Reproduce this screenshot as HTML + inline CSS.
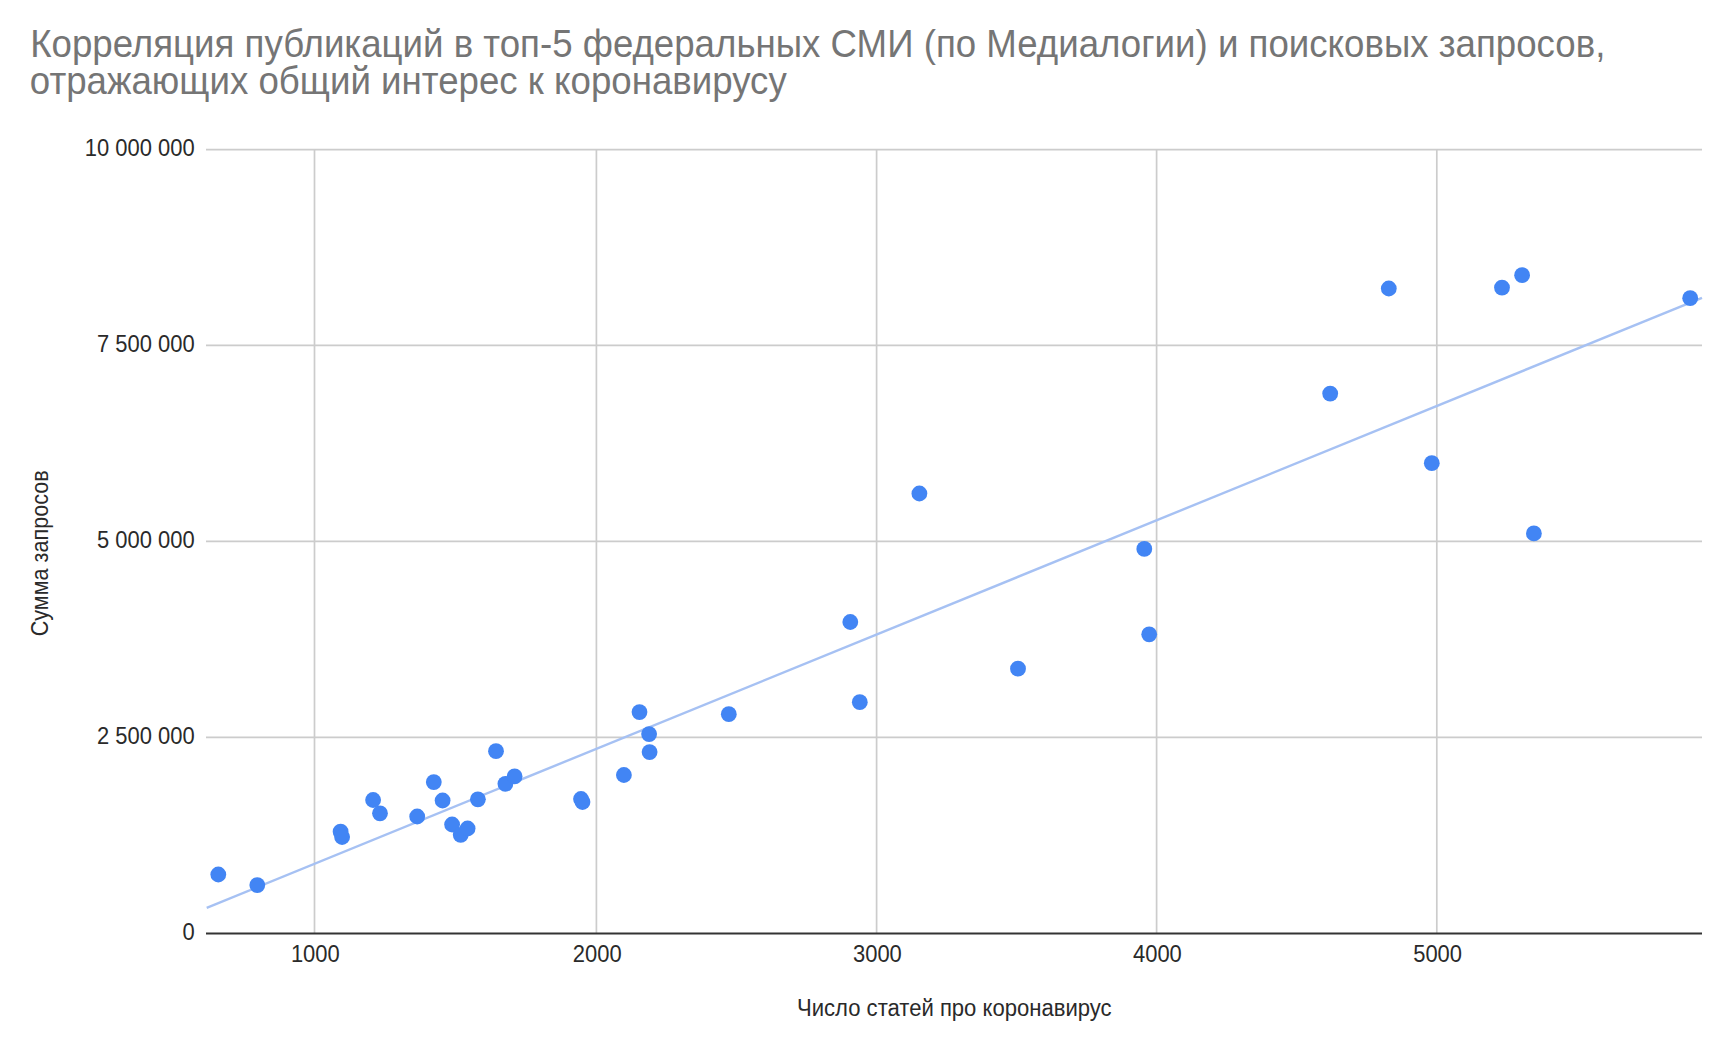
<!DOCTYPE html>
<html><head><meta charset="utf-8">
<style>
html,body{margin:0;padding:0;background:#fff;width:1732px;height:1047px;overflow:hidden}
svg{display:block;font-family:"Liberation Sans",sans-serif}
</style></head><body>
<svg width="1732" height="1047" viewBox="0 0 1732 1047">
<rect width="1732" height="1047" fill="#fff"/>
<g fill="#757575" font-size="38">
<text transform="translate(30.2,57) scale(0.9646,1)">Корреляция публикаций в топ-5 федеральных СМИ (по Медиалогии) и поисковых запросов,</text>
<text transform="translate(29.8,93.8) scale(0.9646,1)">отражающих общий интерес к коронавирусу</text>
</g>
<g stroke="#cccccc" stroke-width="1.7">
<line x1="206" y1="149.6" x2="1702" y2="149.6"/>
<line x1="206" y1="345.4" x2="1702" y2="345.4"/>
<line x1="206" y1="541.3" x2="1702" y2="541.3"/>
<line x1="206" y1="737.3" x2="1702" y2="737.3"/>
<line x1="314.5" y1="149.6" x2="314.5" y2="933"/>
<line x1="596.4" y1="149.6" x2="596.4" y2="933"/>
<line x1="876.6" y1="149.6" x2="876.6" y2="933"/>
<line x1="1156.6" y1="149.6" x2="1156.6" y2="933"/>
<line x1="1436.8" y1="149.6" x2="1436.8" y2="933"/>
</g>
<line x1="206" y1="933.4" x2="1702" y2="933.4" stroke="#333" stroke-width="2"/>
<g fill="#2a2a2a" font-size="23">
<text transform="translate(194.6,155.9) scale(0.955,1)" text-anchor="end">10 000 000</text>
<text transform="translate(194.6,351.7) scale(0.955,1)" text-anchor="end">7 500 000</text>
<text transform="translate(194.6,547.6) scale(0.955,1)" text-anchor="end">5 000 000</text>
<text transform="translate(194.6,743.6) scale(0.955,1)" text-anchor="end">2 500 000</text>
<text transform="translate(194.6,939.5) scale(0.955,1)" text-anchor="end">0</text>
<text transform="translate(315.3,961.5) scale(0.955,1)" text-anchor="middle">1000</text>
<text transform="translate(597.1999999999999,961.5) scale(0.955,1)" text-anchor="middle">2000</text>
<text transform="translate(877.4,961.5) scale(0.955,1)" text-anchor="middle">3000</text>
<text transform="translate(1157.3999999999999,961.5) scale(0.955,1)" text-anchor="middle">4000</text>
<text transform="translate(1437.6,961.5) scale(0.955,1)" text-anchor="middle">5000</text>
</g>
<g fill="#2a2a2a" font-size="23">
<text transform="translate(954.3,1016.3) scale(0.96,1)" text-anchor="middle">Число статей про коронавирус</text>
<text transform="translate(48.2,553.3) rotate(-90) scale(0.94,1)" text-anchor="middle">Сумма запросов</text>
</g>
<line x1="206.7" y1="907.8" x2="1702" y2="297.8" stroke="#a6c1f3" stroke-width="2.4"/>
<g fill="#4285f4">
<circle cx="218.3" cy="874.5" r="7.9"/>
<circle cx="257.3" cy="885.1" r="7.9"/>
<circle cx="340.6" cy="831.7" r="7.9"/>
<circle cx="342.1" cy="837" r="7.9"/>
<circle cx="373.1" cy="800" r="7.9"/>
<circle cx="380" cy="813.3" r="7.9"/>
<circle cx="417.2" cy="816.5" r="7.9"/>
<circle cx="433.8" cy="782.1" r="7.9"/>
<circle cx="442.6" cy="800.5" r="7.9"/>
<circle cx="452.1" cy="824.5" r="7.9"/>
<circle cx="460.7" cy="834.8" r="7.9"/>
<circle cx="467.6" cy="828.5" r="7.9"/>
<circle cx="477.9" cy="799.3" r="7.9"/>
<circle cx="496" cy="751.2" r="7.9"/>
<circle cx="505.4" cy="783.8" r="7.9"/>
<circle cx="514.6" cy="776.4" r="7.9"/>
<circle cx="581" cy="799" r="7.9"/>
<circle cx="582.5" cy="802" r="7.9"/>
<circle cx="623.9" cy="775" r="7.9"/>
<circle cx="639.5" cy="712.1" r="7.9"/>
<circle cx="649.1" cy="734.1" r="7.9"/>
<circle cx="649.6" cy="752.1" r="7.9"/>
<circle cx="728.8" cy="714.2" r="7.9"/>
<circle cx="850.3" cy="622" r="7.9"/>
<circle cx="859.8" cy="702.2" r="7.9"/>
<circle cx="919.4" cy="493.5" r="7.9"/>
<circle cx="1018" cy="668.7" r="7.9"/>
<circle cx="1144.3" cy="548.9" r="7.9"/>
<circle cx="1149.2" cy="634.3" r="7.9"/>
<circle cx="1330.2" cy="393.6" r="7.9"/>
<circle cx="1388.8" cy="288.5" r="7.9"/>
<circle cx="1431.8" cy="463.2" r="7.9"/>
<circle cx="1502" cy="287.6" r="7.9"/>
<circle cx="1522.1" cy="275.2" r="7.9"/>
<circle cx="1533.9" cy="533.4" r="7.9"/>
<circle cx="1690.2" cy="298.2" r="7.9"/>
</g>
</svg>
</body></html>
